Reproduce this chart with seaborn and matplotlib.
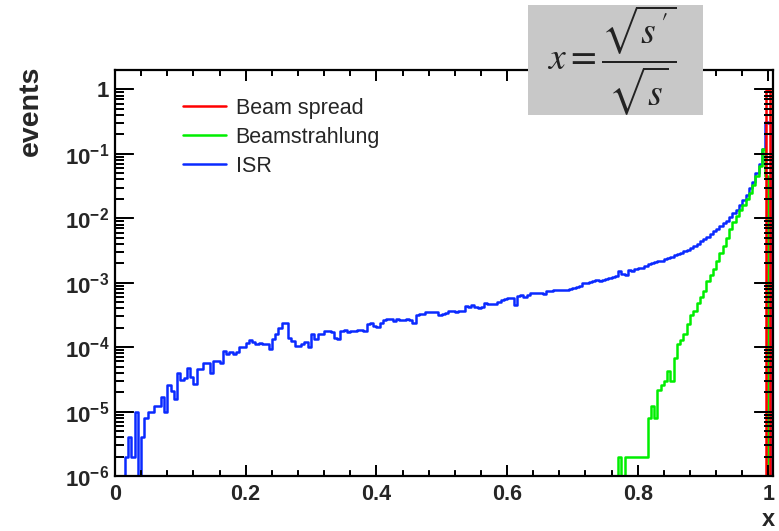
import numpy as np
import pandas as pd
import matplotlib
matplotlib.use("Agg")
import matplotlib.pyplot as plt
import seaborn as sns
from matplotlib.patches import Rectangle
from matplotlib.collections import LineCollection
from matplotlib.ticker import MultipleLocator, LogLocator, NullFormatter, FixedLocator

# ---------------------------------------------------------------- data
# Normalised event fractions per bin of x = sqrt(s')/sqrt(s), bin width 0.005
isr = [
    0, 0, 0, 2e-6, 4e-6, 2e-6, 1e-5, 0, 4e-6, 8e-6,
    1e-5, 1e-5, 1.2e-5, 1.2e-5, 1.7e-5, 1.0e-5, 2.6e-5, 2.1e-5, 1.55e-5, 3.9e-5,
    3.1e-5, 3.3e-5, 4.8e-5, 3.5e-5, 2.7e-5, 4.6e-5, 4.6e-5, 5.7e-5, 5.7e-5, 3.9e-5,
    6.1e-5, 6.1e-5, 5.7e-5, 8.7e-5, 7.7e-5, 8.5e-5, 7.8e-5, 8.5e-5, 1.0e-4, 1.0e-4,
    1.17e-4, 1.28e-4, 1.2e-4, 1.13e-4, 1.15e-4, 1.1e-4, 1.1e-4, 9.3e-5, 1.35e-4, 1.6e-4,
    2.0e-4, 2.4e-4, 2.4e-4, 1.4e-4, 1.23e-4, 1.05e-4, 1.05e-4, 1.1e-4, 1.2e-4, 1.0e-4,
    1.6e-4, 1.35e-4, 1.6e-4, 1.6e-4, 1.75e-4, 1.8e-4, 1.7e-4, 1.4e-4, 1.35e-4, 1.8e-4,
    1.85e-4, 1.7e-4, 1.8e-4, 1.8e-4, 1.82e-4, 1.85e-4, 1.8e-4, 2.3e-4, 2.4e-4, 2.1e-4,
    2.05e-4, 2.4e-4, 2.6e-4, 2.7e-4, 2.7e-4, 2.5e-4, 2.7e-4, 2.65e-4, 2.6e-4, 2.7e-4,
    2.65e-4, 2.4e-4, 3.2e-4, 3.25e-4, 3.25e-4, 3.5e-4, 3.55e-4, 3.55e-4, 3.45e-4, 3.2e-4,
    3.3e-4, 3.4e-4, 3.6e-4, 3.7e-4, 3.45e-4, 3.6e-4, 3.7e-4, 4.4e-4, 4.2e-4, 4.5e-4,
    4.2e-4, 4.1e-4, 4.25e-4, 4.8e-4, 4.7e-4, 4.6e-4, 4.7e-4, 5.1e-4, 5.3e-4, 5.5e-4,
    5.8e-4, 5.8e-4, 4.5e-4, 6.3e-4, 6.4e-4, 6.1e-4, 6.4e-4, 6.8e-4, 6.9e-4, 6.9e-4,
    6.8e-4, 6.7e-4, 7.4e-4, 7.5e-4, 7.6e-4, 7.7e-4, 7.8e-4, 7.7e-4, 7.8e-4, 7.9e-4,
    8.4e-4, 8.6e-4, 8.9e-4, 9.8e-4, 1.0e-3, 1.02e-3, 1.08e-3, 1.12e-3, 1.08e-3, 1.12e-3,
    1.16e-3, 1.2e-3, 1.22e-3, 1.28e-3, 1.5e-3, 1.35e-3, 1.32e-3, 1.55e-3, 1.52e-3, 1.62e-3,
    1.72e-3, 1.7e-3, 1.8e-3, 1.92e-3, 2.0e-3, 2.1e-3, 2.15e-3, 2.2e-3, 2.3e-3, 2.4e-3,
    2.5e-3, 2.65e-3, 2.8e-3, 2.9e-3, 3.1e-3, 3.2e-3, 3.5e-3, 3.7e-3, 4.0e-3, 4.4e-3,
    4.8e-3, 5.2e-3, 5.7e-3, 6.3e-3, 6.9e-3, 7.6e-3, 8.4e-3, 9.2e-3, 1.03e-2, 1.2e-2,
    1.35e-2, 1.6e-2, 1.9e-2, 2.3e-2, 2.9e-2, 3.7e-2, 5.0e-2, 7.0e-2, 0.12, 0.31,
    0.30, 0,
]

beamstrahlung = [0.0] * 150 + [
    0, 0, 0, 0, 2e-6, 0, 2e-6, 2e-6, 2e-6, 2e-6,
    2e-6, 2e-6, 2e-6, 8e-6, 1.2e-5, 8e-6, 2.2e-5, 2.6e-5, 3.0e-5, 4.3e-5,
    3.0e-5, 6.9e-5, 1.1e-4, 1.3e-4, 1.6e-4, 2.3e-4, 3.1e-4, 3.6e-4, 4.9e-4, 5.9e-4,
    7.4e-4, 1.07e-3, 1.3e-3, 1.65e-3, 2.2e-3, 2.9e-3, 3.7e-3, 5.0e-3, 6.9e-3, 8.7e-3,
    1.1e-2, 1.35e-2, 1.6e-2, 2.0e-2, 2.5e-2, 3.3e-2, 4.5e-2, 6.5e-2, 0.12, 0.046,
    0, 0,
]

beam_spread_edges = [0.99, 0.997, 1.003, 1.01]
beam_spread = [0, 0.97, 0]

bin_width = 0.005
edges = np.round(np.arange(len(isr) + 1) * bin_width, 4)

x_ticks = [0, 0.2, 0.4, 0.6, 0.8, 1.0]
x_labels = ["0", "0.2", "0.4", "0.6", "0.8", "1"]
y_ticks = [1e-6, 1e-5, 1e-4, 1e-3, 1e-2, 1e-1, 1]
y_labels = [r"$\mathbf{10^{-6}}$", r"$\mathbf{10^{-5}}$", r"$\mathbf{10^{-4}}$",
            r"$\mathbf{10^{-3}}$", r"$\mathbf{10^{-2}}$", r"$\mathbf{10^{-1}}$", "1"]

series_names = ["Beam spread", "Beamstrahlung", "ISR"]
series_colors = ["#ff0000", "#00ee00", "#0a2aff"]


def step_frame(bin_edges, values):
    """Histogram outline: one point per bin edge, held to the next edge."""
    heights = list(values) + [values[-1]]
    return pd.DataFrame({"x": np.asarray(bin_edges, float), "y": np.asarray(heights, float)})


# ---------------------------------------------------------------- style
sns.set_style("ticks")
plt.rcParams.update({
    "font.family": ["Liberation Sans", "DejaVu Sans"],
    "mathtext.fontset": "custom",
    "mathtext.rm": "Liberation Sans",
    "mathtext.bf": "Liberation Sans:bold",
    "mathtext.it": "Liberation Sans:italic",
    "axes.axisbelow": False,
})

W, H = 779, 531
fig = plt.figure(figsize=(W / 100, H / 100), dpi=100)
fig.patch.set_facecolor("white")
ax_l, ax_r, ax_t, ax_b = 115, 773, 70, 476
ax = fig.add_axes([ax_l / W, 1 - ax_b / H, (ax_r - ax_l) / W, (ax_b - ax_t) / H])
ax.set_axisbelow(False)

lw = 1.8
for name, color, (be, vals) in zip(
        ["ISR", "Beamstrahlung", "Beam spread"],
        [series_colors[2], series_colors[1], series_colors[0]],
        [(edges, isr), (edges, beamstrahlung), (beam_spread_edges, beam_spread)]):
    sns.lineplot(data=step_frame(be, vals), x="x", y="y", estimator=None, sort=False,
                 drawstyle="steps-post", color=color, linewidth=lw, label=name,
                 legend=False, ax=ax)

ax.set_yscale("log")
ax.set_xlim(0, 1.007)
ax.set_ylim(1e-6, 2.0)
ax.set_xlabel("")
ax.set_ylabel("")

# axes frame
for sp in ax.spines.values():
    sp.set_color("black")
    sp.set_linewidth(1.6)
    sp.set_visible(True)

# tick positions and labels
ax.minorticks_on()
ax.xaxis.set_major_locator(FixedLocator(x_ticks))
ax.set_xticklabels(x_labels, fontsize=15.5, fontweight="bold")
ax.xaxis.set_minor_locator(MultipleLocator(0.04))
ax.yaxis.set_major_locator(FixedLocator(y_ticks))
ax.set_yticklabels(y_labels, fontsize=16, fontweight="bold")
ax.yaxis.set_minor_locator(LogLocator(base=10.0, subs=(2, 3, 4, 5, 6, 7, 8, 9), numticks=12))
ax.yaxis.set_minor_formatter(NullFormatter())
ax.xaxis.set_minor_formatter(NullFormatter())
ax.xaxis.set_ticks_position("both")
ax.yaxis.set_ticks_position("both")
for axis_obj, maj_len, min_len, pad in ((ax.xaxis, 8, 4, 6), (ax.yaxis, 13, 6.5, 4)):
    axis_obj.set_tick_params(which="major", direction="in", length=maj_len, width=1.3,
                             color="black", pad=pad)
    axis_obj.set_tick_params(which="minor", direction="in", length=min_len, width=1.3,
                             color="black")

# inward tick marks on all four sides, drawn on top of the whole axes
x_minor = [v for v in np.round(np.arange(0.04, 1.0, 0.04), 2) if v not in x_ticks]
y_minor = [k * 10.0 ** e for e in range(-6, 1) for k in range(2, 10) if k * 10.0 ** e <= 2.0]
ax_h_px, ax_w_px = ax_b - ax_t, ax_r - ax_l

x_segs = []
for xs, length_px in ((x_ticks, 11), (x_minor, 5.5)):
    frac = length_px / ax_h_px
    for xv in xs:
        x_segs.append([(xv, 0.0), (xv, frac)])
        x_segs.append([(xv, 1.0 - frac), (xv, 1.0)])
y_segs = []
for ys, length_px in ((y_ticks, 19), (y_minor, 9)):
    frac = length_px / ax_w_px
    for yv in ys:
        y_segs.append([(0.0, yv), (frac, yv)])
        y_segs.append([(1.0 - frac, yv), (1.0, yv)])

fig.add_artist(LineCollection(x_segs, colors="black", linewidths=1.3,
                              transform=ax.get_xaxis_transform(), zorder=10))
fig.add_artist(LineCollection(y_segs, colors="black", linewidths=1.3,
                              transform=ax.get_yaxis_transform(), zorder=10))

# legend (Beam spread, Beamstrahlung, ISR)
lines = ax.get_lines()
handles = [lines[2], lines[1], lines[0]]
leg = ax.legend(handles, series_names, loc="upper left",
                bbox_to_anchor=((183 - ax_l) / (ax_r - ax_l), (ax_b - 98) / (ax_b - ax_t)),
                frameon=False, fontsize=15.5, handlelength=2.0, handletextpad=0.45,
                labelspacing=0.36, borderpad=0, borderaxespad=0)

# axis titles
fig.text(31 / W, 1 - 66 / H, "events", rotation=90, ha="center", va="top",
         fontsize=20.5, fontweight="bold")
fig.text(768 / W, 1 - 526 / H, "x", ha="center", va="baseline",
         fontsize=17, fontweight="bold")

# definition of x in a grey box (drawn over the frame, like the original label)
box = Rectangle((528 / W, 1 - 115 / H), (703 - 528) / W, (115 - 5) / H,
                transform=fig.transFigure, facecolor="#c8c8c8", edgecolor="none", zorder=11)
fig.patches.append(box)
fig.text(612 / W, 1 - 60 / H, r"$x=\dfrac{\sqrt{s\,'}}{\sqrt{s}}$",
         math_fontfamily="stix", fontsize=27, ha="center", va="center",
         color="#222222", zorder=12)

fig.savefig("out.png", dpi=100, facecolor="white")
